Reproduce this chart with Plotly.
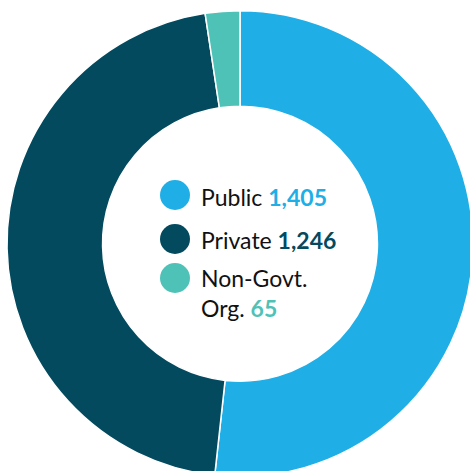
import plotly.graph_objects as go

# Sector breakdown
categories = ["Public", "Private", "Non-Govt.<br>Org."]
values = [1405, 1246, 65]
colors = ["#20AEE6", "#034A5F", "#4FC2B8"]

# Canvas is a touch larger than the viewport so the ring bleeds off the right/bottom edges
W, H = 473, 477

fig = go.Figure(
    go.Pie(
        labels=categories,
        values=values,
        hole=0.59,
        sort=False,
        direction="clockwise",
        rotation=0,
        marker=dict(colors=colors, line=dict(color="white", width=1.5)),
        textinfo="none",
        hoverinfo="label+value",
        showlegend=False,
        domain=dict(x=[7 / W, 1], y=[0, 466.5 / H]),
    )
)

# Custom centre legend: coloured dots + label with bold coloured value
dot_x = 175
dot_r = 15
dot_y = [195, 239, 278]
text_x = 199
text_y = [197, 240, 293]

shapes = []
annotations = []
for i, (cat, val, col) in enumerate(zip(categories, values, colors)):
    cy = H - dot_y[i]
    shapes.append(dict(
        type="circle", xref="paper", yref="paper",
        x0=(dot_x - dot_r) / W, x1=(dot_x + dot_r) / W,
        y0=(cy - dot_r) / H, y1=(cy + dot_r) / H,
        fillcolor=col, line=dict(width=0),
    ))
    annotations.append(dict(
        xref="paper", yref="paper",
        x=text_x / W, y=(H - text_y[i]) / H,
        xanchor="left", yanchor="middle", align="left",
        showarrow=False,
        text=f"{cat} <b><span style='color:{col}'>{val:,}</span></b>",
        font=dict(family="Lato, sans-serif", size=23, color="#111111"),
    ))

fig.update_layout(
    width=W, height=H,
    margin=dict(l=0, r=0, t=0, b=0),
    paper_bgcolor="white",
    plot_bgcolor="white",
    shapes=shapes,
    annotations=annotations,
)

fig.write_html(
    "out.html",
    post_script="document.documentElement.style.overflow='hidden';"
                "document.body.style.overflow='hidden';document.body.style.margin='0';",
)
